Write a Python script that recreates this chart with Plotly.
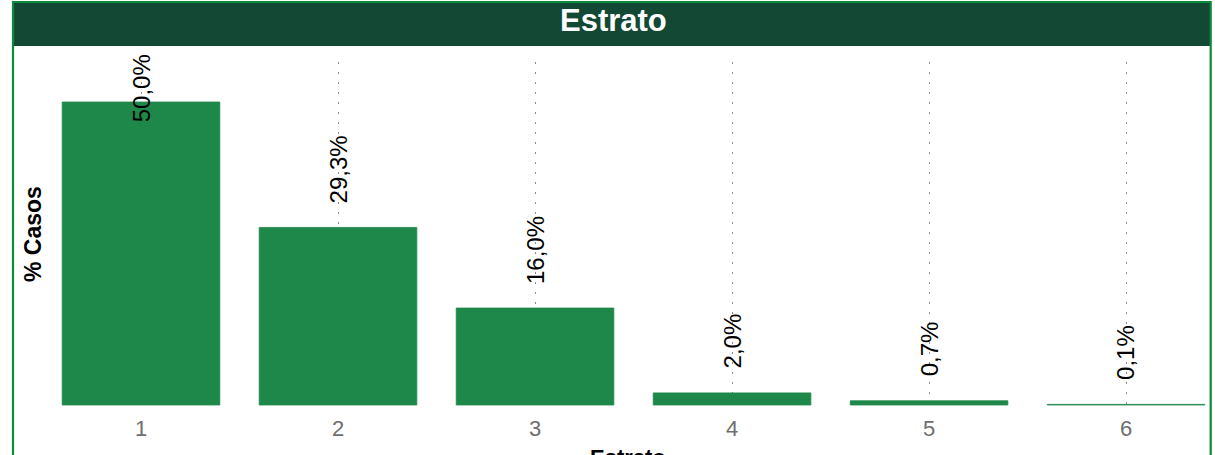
import plotly.graph_objects as go

# ---- data ----
categories = ["1", "2", "3", "4", "5", "6"]
values = [50.0, 29.3, 16.0, 2.0, 0.7, 0.1]
labels = [f"{v:.1f}".replace(".", ",") + "%" for v in values]

chart_title = "Estrato"
x_title = "Estrato"
y_title = "% Casos"

# ---- layout constants (pixels) ----
W, H = 1215, 455
ML, MR, MT, MB = 42, 5, 62, 48
PW, PH = W - ML - MR, H - MT - MB

def px_x(p):
    return (p - ML) / PW

def px_y(p):
    return (H - MB - p) / PH

BAR_COLOR = "#1e884a"
HEADER_COLOR = "#134834"
BORDER_COLOR = "#0b8a3a"
FONT = "Arial, Liberation Sans, sans-serif"
LABEL_CAP = 42.7  # labels never start above this value

fig = go.Figure()
fig.add_trace(go.Bar(
    x=categories, y=values, marker_color=BAR_COLOR, width=0.8,
    marker_line=dict(color=BAR_COLOR, width=0.8),
    hoverinfo="skip", showlegend=False,
))

annotations = []
for i, (v, t) in enumerate(zip(values, labels)):
    annotations.append(dict(
        x=i, y=min(v, LABEL_CAP), xref="x", yref="y", text=t, textangle=-90,
        showarrow=False, yanchor="bottom", xanchor="center", yshift=22,
        font=dict(family=FONT, size=24, color="#000000"),
    ))

annotations += [
    dict(x=px_x(613), y=px_y(20), xref="paper", yref="paper", text=f"<b>{chart_title}</b>",
         showarrow=False, xanchor="center", yanchor="middle",
         font=dict(family=FONT, size=31, color="#ffffff")),
    dict(x=px_x(33), y=px_y(234), xref="paper", yref="paper", text=f"<b>{y_title}</b>",
         showarrow=False, xanchor="center", yanchor="middle", textangle=-90,
         font=dict(family=FONT, size=23, color="#000000")),
    dict(x=px_x(628), y=px_y(443), xref="paper", yref="paper", text=f"<b>{x_title}</b>",
         showarrow=False, xanchor="center", yanchor="top",
         font=dict(family=FONT, size=22, color="#000000")),
]

shapes = [
    dict(type="rect", xref="paper", yref="paper", x0=px_x(13), x1=px_x(1210), y0=px_y(46), y1=px_y(2),
         fillcolor=HEADER_COLOR, line=dict(width=0), layer="above"),
    dict(type="rect", xref="paper", yref="paper", x0=px_x(13), x1=px_x(1210.7), y0=px_y(480), y1=px_y(2),
         fillcolor="rgba(0,0,0,0)", line=dict(color=BORDER_COLOR, width=2.2), layer="above"),
]

fig.update_layout(
    width=W, height=H,
    margin=dict(l=ML, r=MR, t=MT, b=MB, pad=0),
    paper_bgcolor="#ffffff", plot_bgcolor="#ffffff",
    font=dict(family=FONT),
    annotations=annotations, shapes=shapes,
    bargap=0.2,
    xaxis=dict(
        type="category", range=[-0.5025, 5.426],
        showgrid=True, gridcolor="#8c8c8c", gridwidth=1, griddash="1.5px,8.5px",
        showline=False, zeroline=False, ticks="",
        tickfont=dict(family=FONT, size=22, color="#6e6e6e"),
        ticklabelstandoff=6,
        fixedrange=True,
    ),
    yaxis=dict(
        range=[-0.33, 56.6], showgrid=False, zeroline=False, showline=False,
        showticklabels=False, ticks="", fixedrange=True,
    ),
)

fig.write_html("out.html", config={"displayModeBar": False},
               post_script="document.body.style.margin='0';document.body.style.overflow='hidden';")
